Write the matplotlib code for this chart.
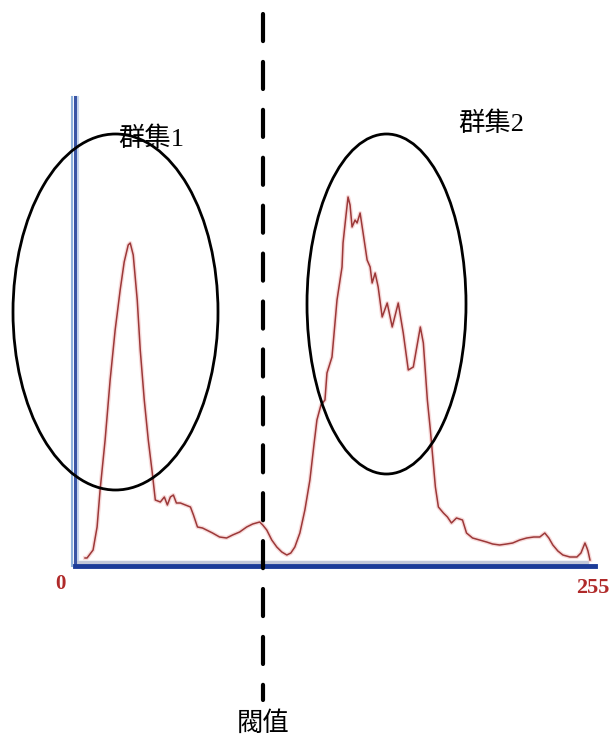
import numpy as np
import matplotlib.pyplot as plt
from matplotlib.patches import Ellipse
from matplotlib.transforms import blended_transform_factory, ScaledTranslation

plt.rcParams['lines.scale_dashes'] = False

# gray level histogram (arbitrary count units)
gray = [3.5, 4.5, 7.5, 9.5, 11, 13.5, 16, 18.5, 21, 23, 25, 26, 27.5, 29.5, 31, 33,
        35, 37, 38.5, 41, 43, 44.5, 46, 47.5, 49, 51, 53.5, 56, 57.5, 59.5, 62, 64,
        67, 70.5, 74, 77, 80.5, 84, 87, 90.5, 92, 94, 96.5, 99, 101.5, 104, 106, 108,
        110.5, 113, 115.5, 117.5, 119, 121, 123, 124, 126.5, 129, 131.5, 132, 133.5,
        134.5, 135.5, 136.5, 138, 139, 140.5, 142, 144, 145.5, 146.5, 148, 149.5,
        151.5, 154, 156.5, 159.5, 162, 164.5, 167, 170.5, 172, 174, 175.5, 176.5,
        178, 179.5, 182, 184, 186, 188.5, 191.5, 193.5, 196.5, 200, 203.5, 206.5,
        210, 213.5, 216.5, 220, 223.5, 227, 230, 232.5, 234.5, 236.5, 239, 241.5,
        245, 248.5, 250.5, 252.5, 253.5, 254, 255]
counts = [5, 5, 13, 36, 73, 123, 183, 233, 273, 301, 318, 320, 308, 263, 213, 163,
          123, 90, 63, 61, 66, 58, 66, 68, 60, 60, 58, 56, 48, 36, 35, 33,
          30, 26, 25, 28, 31, 36, 39, 41, 38, 33, 23, 16, 11, 8, 10, 16,
          30, 53, 83, 118, 143, 158, 163, 190, 206, 263, 296, 320, 348,
          366, 358, 336, 343, 340, 350, 330, 303, 296, 280, 290, 276,
          246, 260, 236, 260, 230, 193, 196, 236, 220, 163, 133, 110,
          76, 56, 50, 46, 40, 45, 43, 30, 25, 23, 21, 19,
          18, 19, 20, 23, 25, 26, 26, 30, 25, 18, 12, 8,
          6, 6, 10, 20, 15, 12, 3]
threshold = 92
tick_labels = ['0', '255']
cluster_labels = ['群集1', '群集2']
threshold_label = '閥值'

W, H = 609, 742
fig = plt.figure(figsize=(W / 100, H / 100), dpi=100)

# histogram axes
ax = fig.add_axes([75 / W, 1 - 566 / H, 520 / W, 469 / H])
ax.set_xlim(-1.5, 257.5)
ax.set_ylim(-3, 466)
ax.patch.set_alpha(0)
for s in ['top', 'right']:
    ax.spines[s].set_visible(False)
ax.spines['left'].set_color('#3a55a5')
ax.spines['left'].set_linewidth(2.2)
ax.spines['bottom'].set_color('#1c3c98')
ax.spines['bottom'].set_linewidth(3.5)
ax.set_xticks([])
ax.set_yticks([])

# light edges of the blue axes
off = lambda dx, dy: ax.transAxes + ScaledTranslation(dx / 100, dy / 100, fig.dpi_scale_trans)
ax.plot([0, 0], [0, 1], transform=off(-3, 0), color='#8fb3dc', lw=1.5, clip_on=False)
ax.plot([0, 0], [0, 1], transform=off(3, 0), color='#c9d9ee', lw=1.5, clip_on=False)
ax.plot([0, 0.985], [0, 0], transform=off(0, 4), color='#c3c8d8', lw=2.5, clip_on=False)

ax.plot(gray, counts, color='#f2c4c4', lw=3, alpha=0.6, clip_on=False)
ax.plot(gray, counts, color='#9c3838', lw=1.1, clip_on=False)

ax.annotate(tick_labels[0], (0, 0), xytext=(-18, -21), textcoords='offset pixels',
            ha='center', va='center', color='#b02a2a', fontsize=15, fontweight='bold',
            family='Liberation Serif', annotation_clip=False)
ax.annotate(tick_labels[1], (255, 0), xytext=(3, -25), textcoords='offset pixels',
            ha='center', va='center', color='#b02a2a', fontsize=16, fontweight='bold',
            family='Liberation Serif', annotation_clip=False)

# threshold line, x in data, y in figure
tr = blended_transform_factory(ax.transData, fig.transFigure)
ax.plot([threshold, threshold], [1 - 14 / H, 1 - 700 / H], transform=tr, color='black',
        lw=3, ls=(0, (19.5, 15)), dash_capstyle='round', clip_on=False, zorder=5)

# overlay for annotations (pixel coords)
ov = fig.add_axes([0, 0, 1, 1])
ov.set_xlim(0, W)
ov.set_ylim(H, 0)
ov.axis('off')
ov.patch.set_alpha(0)

ov.add_patch(Ellipse((115.5, 312), 205, 356, fill=False, ec='black', lw=2))
ov.add_patch(Ellipse((386.5, 304), 159, 340, fill=False, ec='black', lw=2))

fam = ['Liberation Serif', 'Noto Sans CJK TC']
ov.text(151, 139, cluster_labels[0], ha='center', va='center', fontsize=19, family=fam)
ov.text(491, 124, cluster_labels[1], ha='center', va='center', fontsize=19, family=fam)
ov.text(263, 724, threshold_label, ha='center', va='center', fontsize=19, family=fam)

fig.savefig('out.png', dpi=100)
